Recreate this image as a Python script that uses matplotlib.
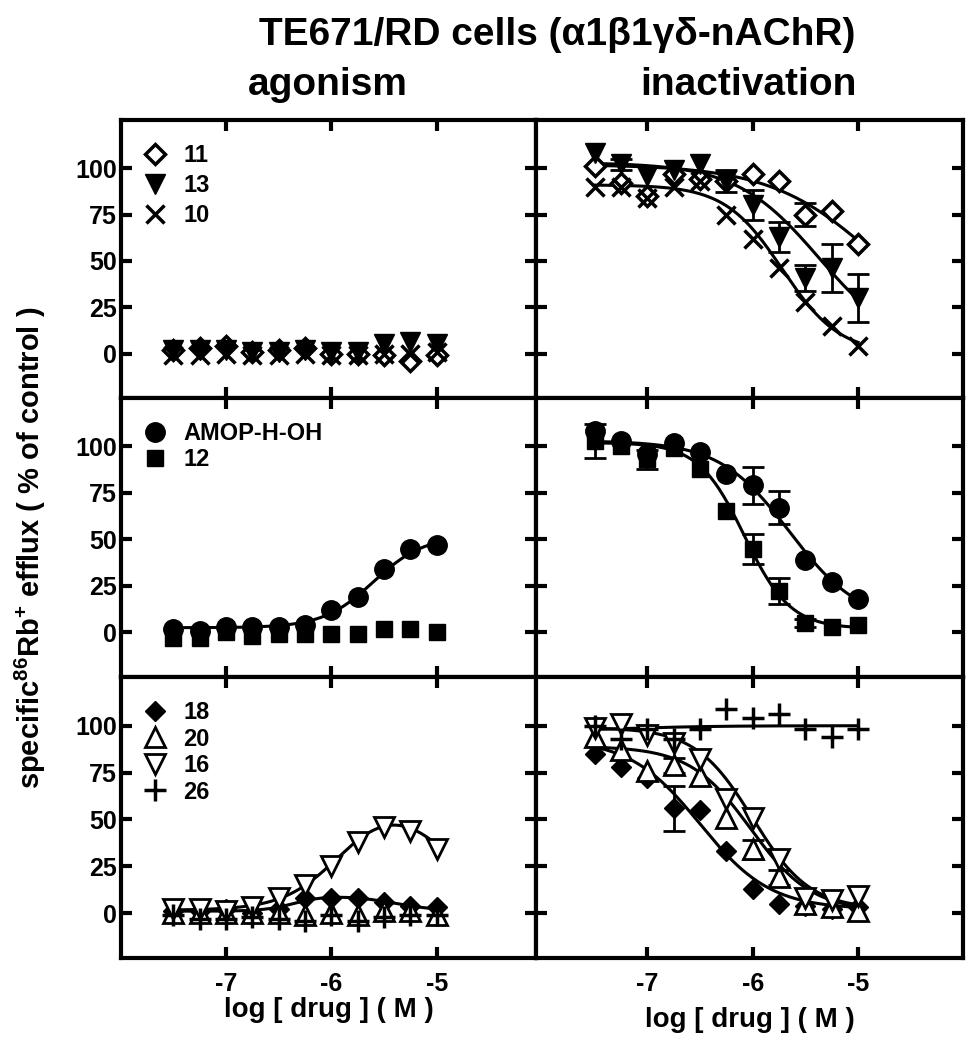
import numpy as np
import matplotlib.pyplot as plt
from matplotlib.lines import Line2D

plt.rcParams['font.family'] = ['Liberation Sans', 'DejaVu Sans']
plt.rcParams['font.weight'] = 'bold'
plt.rcParams['axes.labelweight'] = 'bold'
plt.rcParams['axes.unicode_minus'] = False
plt.rcParams['mathtext.fontset'] = 'custom'
plt.rcParams['mathtext.rm'] = 'Liberation Sans:bold'
plt.rcParams['mathtext.bf'] = 'Liberation Sans:bold'
plt.rcParams['mathtext.it'] = 'Liberation Sans:bold'

# log [drug] (M)
log_conc = [-7.5, -7.25, -7.0, -6.75, -6.5, -6.25, -6.0, -5.75, -5.5, -5.25, -5.0]

# ---- agonism (left column) ----
ag_11 = [2, 3, 4, 1, 2, 3, 0, 0, -1, -4, -1]
ag_13 = [2, 2, 2, 1, 1, 2, 1, 1, 5, 6, 5]
ag_10 = [-1, -1, 0, -1, -1, 0, -1, -1, 0, 0, 1]

ag_amop = [2, 1, 3, 3, 3, 4, 12, 19, 34, 45, 47]
ag_12 = [-3, -3, 0, -2, -1, -1, -1, -1, 2, 2, 0]

ag_18 = [1, 1, 2, 0, 2, 8, 8, 8, 6, 4, 3]
ag_20 = [0, 0, 0, 0, 0, -1, 0, -1, 1, 1, -1]
ag_16 = [2, 2, 1, 3, 8, 15, 25, 38, 46, 44, 34]
ag_26 = [-1, -3, -3, -2, -3, -4, -1, -4, -2, -1, -1]

# ---- inactivation (right column) ----
in_11 = [101, 92, 85, 97, 94, 93, 97, 93, 75, 77, 59]
in_11_err = [0, 0, 0, 0, 0, 0, 0, 0, 6, 0, 0]
in_13 = [108, 102, 96, 99, 102, 93, 80, 63, 41, 46, 30]
in_13_err = [0, 3, 0, 0, 0, 6, 8, 8, 7, 13, 13]
in_10 = [90, 90, 84, 90, 93, 75, 62, 46, 28, 15, 4]

in_amop = [108, 103, 96, 102, 97, 85, 79, 67, 39, 27, 18]
in_amop_err = [0, 0, 0, 0, 0, 0, 10, 9, 0, 0, 0]
in_12 = [103, 100, 93, 99, 88, 65, 45, 22, 5, 3, 4]
in_12_err = [9, 0, 5, 0, 0, 0, 8, 7, 2, 0, 0]

in_18 = [85, 78, 72, 56, 55, 33, 13, 5, 4, 2, 3]
in_18_err = [0, 0, 0, 12, 0, 0, 0, 0, 0, 0, 0]
in_20 = [94, 87, 76, 79, 73, 51, 34, 19, 5, 3, 1]
in_20_err = [0, 0, 0, 4, 0, 0, 5, 4, 0, 0, 0]
in_16 = [99, 101, 95, 91, 82, 61, 51, 29, 8, 7, 9]
in_26 = [100, 93, 98, 93, 98, 109, 104, 106, 98, 94, 98]

# fitted curves: Hill (bottom, top, logIC50, slope)
hill_in_11 = [0, 102, -4.8, 0.85]
hill_in_13 = [0, 103, -5.37, 1.1]
hill_in_10 = [0, 91, -5.72, 1.6]
hill_in_amop = [5, 103, -5.65, 1.3]
hill_in_12 = [2, 102, -6.08, 2.0]
hill_in_26 = [100, 97, -7.2, 1.0]
hill_in_16 = [2, 99, -6.0, 1.6]
hill_in_20 = [1, 89, -6.02, 1.5]
hill_in_18 = [2, 93, -6.5, 1.3]
hill_ag_amop = [2.5, 52, -5.6, -1.8]
# bell shaped agonist curves (base, amp, logEC50, n_up, logIC50, n_down)
bell_ag_16 = [1.5, 62, -5.9, 1.6, -4.9, 1.5]
bell_ag_18 = [1, 8.5, -6.35, 3, -5.4, 2]


def hill(x, p):
    bottom, top, lc, n = p
    return bottom + (top - bottom) / (1 + 10 ** ((x - lc) * n))


def bell(x, p):
    base, amp, ec, n1, ic, n2 = p
    up = 1 / (1 + 10 ** ((ec - x) * n1))
    down = 1 / (1 + 10 ** ((x - ic) * n2))
    return base + amp * up * down


styles = {
    '11': dict(marker='D', ms=10, mfc='white', mew=2.5),
    '13': dict(marker='v', ms=14, mfc='black', mew=1),
    '10': dict(marker='x', ms=13, mew=2.5),
    'AMOP-H-OH': dict(marker='o', ms=14, mfc='black', mew=1),
    '12': dict(marker='s', ms=11, mfc='black', mew=1),
    '18': dict(marker='D', ms=10, mfc='black', mew=1),
    '20': dict(marker='^', ms=14, mfc='white', mew=2),
    '16': dict(marker='v', ms=14, mfc='white', mew=2),
    '26': dict(marker='+', ms=16, mew=2.5),
}

fig = plt.figure(figsize=(9.75, 10.5), dpi=100)
W, H = 975.0, 1050.0
col_px = [(121, 536), (536, 963)]
row_px = [(120, 398), (398, 677), (677, 958)]
col_xlim = [(-7.995, -4.06), (-8.057, -4.005)]

axes = [[None, None] for _ in range(3)]
for r, (y0, y1) in enumerate(row_px):
    for c, (x0, x1) in enumerate(col_px):
        ax = fig.add_axes([x0 / W, 1 - y1 / H, (x1 - x0) / W, (y1 - y0) / H])
        ax.set_xlim(*col_xlim[c])
        ax.set_ylim(-24, 126)
        ax.set_xticks([-7, -6, -5])
        ax.set_yticks([0, 25, 50, 75, 100])
        ax.tick_params(direction='in', length=8, width=3, top=True, right=True,
                       labelsize=18, pad=3)
        ax.tick_params(axis='x', pad=10)
        for s in ax.spines.values():
            s.set_linewidth(3)
        if c == 1:
            ax.set_yticklabels([])
        if r < 2:
            ax.set_xticklabels([])
        axes[r][c] = ax

xs = np.array(log_conc)
xfit = np.linspace(-7.5, -5.0, 200)


def points(ax, y, name, err=None):
    st = styles[name]
    if err is not None:
        err = np.array(err, dtype=float)
        m = err > 0
        ax.errorbar(xs[m], np.array(y)[m], yerr=err[m], fmt='none', ecolor='black',
                    elinewidth=2, capsize=8, capthick=2, zorder=2)
    ax.plot(xs, y, ls='none', color='black', mec='black', zorder=3, **st)


def legend(ax, names, spacing):
    handles = [Line2D([], [], ls='none', color='black', mec='black', label=n, **styles[n])
               for n in names]
    ax.legend(handles=handles, loc='upper left', bbox_to_anchor=(0.02, 0.965),
              frameon=False, fontsize=17, handlelength=1.0, handletextpad=0.7,
              labelspacing=spacing, borderaxespad=0.2, borderpad=0.4)


# row 1
ax = axes[0][0]
points(ax, ag_11, '11')
points(ax, ag_13, '13')
points(ax, ag_10, '10')
legend(ax, ['11', '13', '10'], 0.3)

ax = axes[0][1]
for p in (hill_in_11, hill_in_13, hill_in_10):
    ax.plot(xfit, hill(xfit, p), color='black', lw=2.2, zorder=1)
points(ax, in_11, '11', in_11_err)
points(ax, in_13, '13', in_13_err)
points(ax, in_10, '10')

# row 2
ax = axes[1][0]
ax.plot(xfit, hill(xfit, hill_ag_amop), color='black', lw=2.2, zorder=1)
points(ax, ag_amop, 'AMOP-H-OH')
points(ax, ag_12, '12')
legend(ax, ['AMOP-H-OH', '12'], 0.15)

ax = axes[1][1]
for p in (hill_in_amop, hill_in_12):
    ax.plot(xfit, hill(xfit, p), color='black', lw=2.2, zorder=1)
points(ax, in_amop, 'AMOP-H-OH', in_amop_err)
points(ax, in_12, '12', in_12_err)

# row 3
ax = axes[2][0]
ax.plot(xfit, bell(xfit, bell_ag_16), color='black', lw=2.2, zorder=1)
ax.plot(xfit, bell(xfit, bell_ag_18), color='black', lw=2.2, zorder=1)
points(ax, ag_18, '18')
points(ax, ag_20, '20')
points(ax, ag_16, '16')
points(ax, ag_26, '26')
legend(ax, ['18', '20', '16', '26'], 0.15)
ax.set_xlabel('log [ drug ] ( M )', fontsize=20, labelpad=1)

ax = axes[2][1]
for p in (hill_in_26, hill_in_16, hill_in_20, hill_in_18):
    ax.plot(xfit, hill(xfit, p), color='black', lw=2.2, zorder=1)
points(ax, in_18, '18', in_18_err)
points(ax, in_20, '20', in_20_err)
points(ax, in_16, '16')
points(ax, in_26, '26')
ax.set_xlabel('log [ drug ] ( M )', fontsize=20, labelpad=8)

fig.text(557 / W, 1 - 35 / H, 'TE671/RD cells (α1β1γδ-nAChR)', ha='center', va='center',
         fontsize=28, fontweight='bold')
fig.text(328 / W, 1 - 85 / H, 'agonism', ha='center', va='center', fontsize=28,
         fontweight='bold')
fig.text(748 / W, 1 - 85 / H, 'inactivation', ha='center', va='center', fontsize=28,
         fontweight='bold')
fig.text(30 / W, 1 - 548 / H, r'specific$^{86}$Rb$^{+}$ efflux ( % of control )',
         rotation=90, ha='center', va='center', fontsize=21, fontweight='bold')

fig.savefig('out.png', dpi=100)
